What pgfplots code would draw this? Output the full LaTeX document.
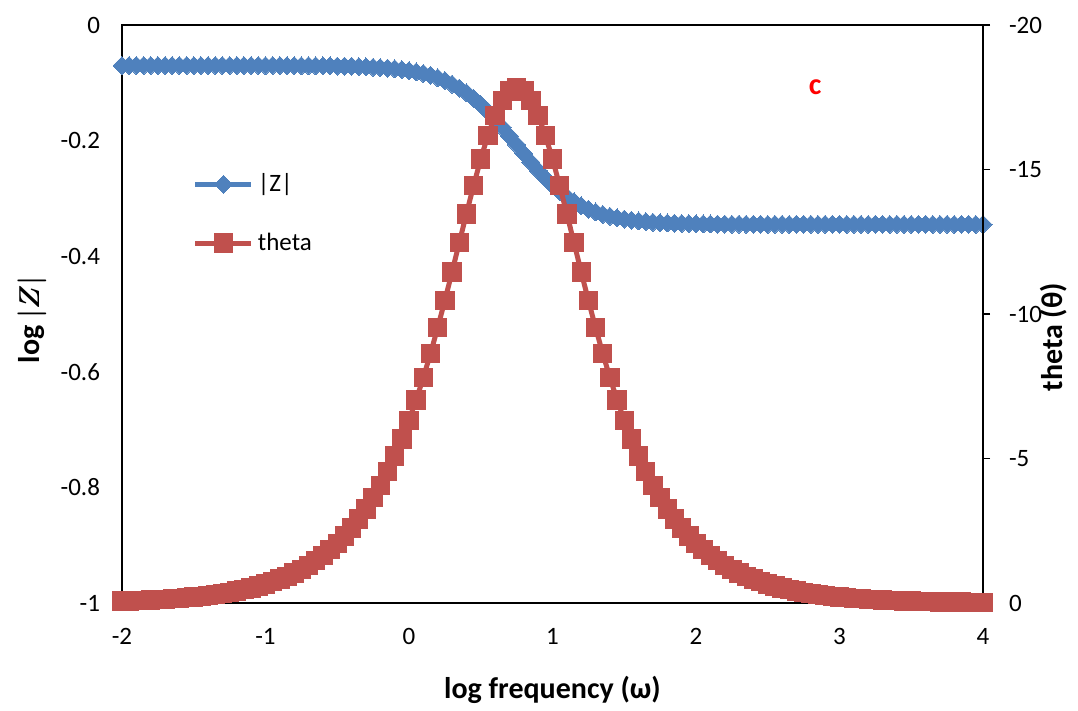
\documentclass[border=0pt]{standalone}
\usepackage{fontspec}
\setmainfont{Carlito}
\usepackage{amsmath}
\usepackage{pgfplots}
\pgfplotsset{compat=1.18}

\definecolor{zblue}{HTML}{4F81BD}
\definecolor{tred}{HTML}{C0504D}

% log frequency, log|Z|, theta (deg)
\pgfplotstableread{
x logz theta
-2.00 -0.0701 -0.065
-1.95 -0.0701 -0.074
-1.90 -0.0701 -0.082
-1.85 -0.0701 -0.093
-1.80 -0.0701 -0.104
-1.75 -0.0701 -0.116
-1.70 -0.0701 -0.131
-1.65 -0.0701 -0.147
-1.60 -0.0701 -0.165
-1.55 -0.0701 -0.185
-1.50 -0.0701 -0.207
-1.45 -0.0701 -0.232
-1.40 -0.0701 -0.261
-1.35 -0.0701 -0.293
-1.30 -0.0701 -0.328
-1.25 -0.0701 -0.368
-1.20 -0.0701 -0.413
-1.15 -0.0701 -0.464
-1.10 -0.0701 -0.520
-1.05 -0.0701 -0.583
-1.00 -0.0702 -0.655
-0.95 -0.0702 -0.734
-0.90 -0.0702 -0.824
-0.85 -0.0703 -0.924
-0.80 -0.0703 -1.037
-0.75 -0.0704 -1.163
-0.70 -0.0704 -1.305
-0.65 -0.0705 -1.464
-0.60 -0.0707 -1.642
-0.55 -0.0708 -1.841
-0.50 -0.0710 -2.064
-0.45 -0.0712 -2.314
-0.40 -0.0715 -2.592
-0.35 -0.0719 -2.905
-0.30 -0.0724 -3.253
-0.25 -0.0730 -3.642
-0.20 -0.0737 -4.074
-0.15 -0.0746 -4.555
-0.10 -0.0758 -5.086
-0.05 -0.0772 -5.676
0.00 -0.0790 -6.323
0.05 -0.0812 -7.031
0.10 -0.0839 -7.803
0.15 -0.0873 -8.635
0.20 -0.0913 -9.529
0.25 -0.0962 -10.470
0.30 -0.1022 -11.453
0.35 -0.1092 -12.465
0.40 -0.1174 -13.465
0.45 -0.1269 -14.444
0.50 -0.1377 -15.362
0.55 -0.1498 -16.184
0.60 -0.1630 -16.873
0.65 -0.1772 -17.394
0.70 -0.1921 -17.720
0.75 -0.2074 -17.831
0.80 -0.2226 -17.723
0.85 -0.2375 -17.394
0.90 -0.2517 -16.873
0.95 -0.2650 -16.184
1.00 -0.2771 -15.362
1.05 -0.2879 -14.444
1.10 -0.2974 -13.465
1.15 -0.3056 -12.465
1.20 -0.3127 -11.453
1.25 -0.3186 -10.470
1.30 -0.3235 -9.529
1.35 -0.3276 -8.635
1.40 -0.3310 -7.803
1.45 -0.3337 -7.031
1.50 -0.3359 -6.323
1.55 -0.3377 -5.676
1.60 -0.3391 -5.086
1.65 -0.3403 -4.555
1.70 -0.3412 -4.074
1.75 -0.3420 -3.642
1.80 -0.3425 -3.253
1.85 -0.3430 -2.905
1.90 -0.3434 -2.592
1.95 -0.3437 -2.314
2.00 -0.3439 -2.064
2.05 -0.3441 -1.841
2.10 -0.3443 -1.642
2.15 -0.3444 -1.464
2.20 -0.3445 -1.305
2.25 -0.3446 -1.163
2.30 -0.3446 -1.037
2.35 -0.3447 -0.924
2.40 -0.3447 -0.824
2.45 -0.3447 -0.734
2.50 -0.3448 -0.655
2.55 -0.3448 -0.583
2.60 -0.3448 -0.520
2.65 -0.3448 -0.464
2.70 -0.3448 -0.413
2.75 -0.3448 -0.368
2.80 -0.3448 -0.328
2.85 -0.3448 -0.293
2.90 -0.3448 -0.261
2.95 -0.3448 -0.232
3.00 -0.3449 -0.207
3.05 -0.3449 -0.185
3.10 -0.3449 -0.165
3.15 -0.3449 -0.147
3.20 -0.3449 -0.131
3.25 -0.3449 -0.116
3.30 -0.3449 -0.104
3.35 -0.3449 -0.093
3.40 -0.3449 -0.082
3.45 -0.3449 -0.074
3.50 -0.3449 -0.066
3.55 -0.3449 -0.058
3.60 -0.3449 -0.052
3.65 -0.3449 -0.046
3.70 -0.3449 -0.041
3.75 -0.3449 -0.037
3.80 -0.3449 -0.033
3.85 -0.3449 -0.029
3.90 -0.3449 -0.026
3.95 -0.3449 -0.023
4.00 -0.3449 -0.021
}\imp

\pgfplotsset{
  zline/.style={zblue, line width=2.5pt, mark=diamond*,
    mark size=4.5pt, mark options={xscale=1.333, solid, fill=zblue, draw=zblue, line width=0pt}},
  tline/.style={tred, line width=2.5pt, mark=square*,
    mark size=4.6pt, mark options={solid, fill=tred, draw=tred, line width=0pt}},
  common/.style={
    scale only axis, width=430.5pt, height=289pt,
    xmin=-2, xmax=4, clip=false,
    tick label style={font=\fontsize{12.5}{14}\selectfont},
    label style={font=\fontsize{15}{17}\selectfont\bfseries},
    /pgf/number format/assume math mode=true,
    axis line style={black, line width=0.75pt, -},
  },
}

\begin{document}
\begin{tikzpicture}
  \begin{axis}[
    common,
    ymin=-1, ymax=0,
    xtick={-2,-1,0,1,2,3,4},
    ytick={-1,-0.8,-0.6,-0.4,-0.2,0},
    major tick length=0pt,
    yticklabel style={xshift=-7.5pt},
    xticklabel style={yshift=-9pt},
    xlabel={log frequency (ω)},
    xlabel style={at={(axis description cs:0.5,0)}, anchor=center, yshift=-43.5pt},
    ylabel={log $\boldsymbol{|Z|}$},
    ylabel style={at={(axis description cs:0,0.49)}, anchor=center, yshift=45pt},
  ]
    \addplot[zline] table[x=x, y=logz] {\imp};
    \coordinate (bl) at (rel axis cs:0,0);
    \coordinate (tr) at (rel axis cs:1,1);
    \node[text=red, font=\fontsize{15}{17}\selectfont\bfseries] at (axis cs:2.83,-0.107) {c};
  \end{axis}
  \begin{axis}[
    common,
    ymin=-20, ymax=0, y dir=reverse,
    hide x axis,
    axis y line*=right,
    ytick={0,-5,-10,-15,-20},
    tick align=outside,
    major tick length=3.5pt,
    ytick style={black, line width=0.75pt},
    yticklabel style={xshift=6pt},
    ylabel={theta (θ)},
    ylabel style={at={(axis description cs:1,0.46)}, anchor=center, yshift=-35.5pt},
    legend style={at={(0.075,0.757)}, anchor=north west, draw=none, fill=none,
      font=\fontsize{12.5}{14}\selectfont, row sep=15pt,
      /tikz/every even column/.append style={column sep=-1.5pt}},
    legend cell align=left,
    legend image code/.code={
      \draw[mark repeat=2, mark phase=2] plot coordinates {(0pt,0pt) (14pt,0pt) (28pt,0pt)};
    },
  ]
    \addlegendimage{zline}
    \addlegendentry{|Z|}
    \addplot[tline] table[x=x, y=theta] {\imp};
    \addlegendentry{theta}
  \end{axis}
  \pgfresetboundingbox
  \path[use as bounding box] ([shift={(-61pt,-54pt)}]bl) rectangle ([shift={(47.5pt,12.5pt)}]tr);
\end{tikzpicture}
\end{document}
